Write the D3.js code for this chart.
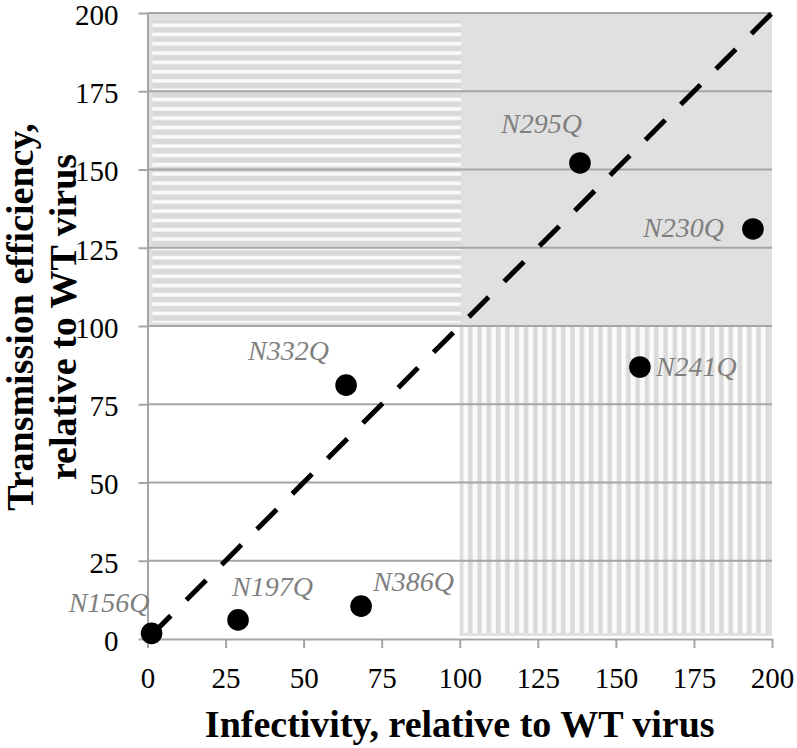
<!DOCTYPE html>
<html><head><meta charset="utf-8">
<script src="https://cdn.jsdelivr.net/npm/d3@7"></script>
<style>html,body{margin:0;padding:0;background:#fff;}svg{display:block;}</style>
</head><body>
<svg id="chart" width="797" height="748"></svg>
<script>
// ---- data ----
const mutants = ["N156Q","N197Q","N386Q","N332Q","N295Q","N230Q","N241Q"];
const infectivity = [1.3, 29.0, 68.4, 63.6, 138.5, 193.9, 157.7];
const transmission = [1.8, 6.1, 10.5, 81.1, 152.1, 131.0, 86.9];
const xTicks = [0,25,50,75,100,125,150,175,200];
const yTicks = [0,25,50,75,100,125,150,175,200];
const diagonal = [[0,0],[200,200]];

// ---- label layout (pixel offsets from point, not data) ----
const labelLayout = {
  N156Q:{dx:-2, dy:-21, anchor:"end"},
  N197Q:{dx:-6, dy:-24, anchor:"start"},
  N386Q:{dx:12, dy:-15, anchor:"start"},
  N332Q:{dx:-98, dy:-25, anchor:"start"},
  N295Q:{dx:-79, dy:-30, anchor:"start"},
  N230Q:{dx:-29, dy:8, anchor:"end"},
  N241Q:{dx:16, dy:9, anchor:"start"}
};

const svg = d3.select("#chart");
const x = d3.scaleLinear().domain([0,200]).range([147.5,772]);
const y = d3.scaleLinear().domain([0,200]).range([639,13]);
const serif = "'Liberation Serif','Times New Roman',serif";

const defs = svg.append("defs");
const ph = defs.append("pattern").attr("id","hstripe").attr("patternUnits","userSpaceOnUse")
  .attr("x",0).attr("y",20.7).attr("width",20).attr("height",9.3);
ph.append("rect").attr("width",20).attr("height",9.3).attr("fill","#d9d9d9");
ph.append("rect").attr("y",2.6).attr("width",20).attr("height",3.7).attr("fill","#fafafa");
const pv = defs.append("pattern").attr("id","vstripe").attr("patternUnits","userSpaceOnUse")
  .attr("x",x(100)).attr("y",0).attr("width",9.3).attr("height",20);
pv.append("rect").attr("width",9.3).attr("height",20).attr("fill","#dadada");
pv.append("rect").attr("x",3.5).attr("width",4.7).attr("height",20).attr("fill","#fafafa");

// upper grey band
svg.append("rect").attr("x",x(0)).attr("y",y(200)).attr("width",x(200)-x(0)).attr("height",y(100)-y(200)).attr("fill","#e0e0e0");
// top-left hatch
svg.append("rect").attr("x",x(0)+5).attr("y",y(200)+7.5).attr("width",x(100)-x(0)-4).attr("height",y(100)-y(200)-11).attr("fill","url(#hstripe)");
// bottom-right grey + hatch
svg.append("rect").attr("x",x(100)).attr("y",y(100)).attr("width",x(200)-x(100)).attr("height",y(0)-y(100)-3).attr("fill","#e0e0e0");
svg.append("rect").attr("x",x(100)+1).attr("y",y(100)+1).attr("width",x(200)-x(100)-4).attr("height",y(0)-y(100)-7).attr("fill","url(#vstripe)");

// gridlines
svg.append("g").selectAll("line").data(yTicks.filter(d=>d>0)).join("line")
  .attr("x1",x(0)).attr("x2",x(200)).attr("y1",d=>y(d)).attr("y2",d=>y(d))
  .attr("stroke","#a5a5a5").attr("stroke-width",2);

// axes
const gy = svg.append("g").attr("transform",`translate(${x(0)},0)`)
  .call(d3.axisLeft(y).tickValues(yTicks).tickSize(9).tickSizeOuter(0).tickPadding(20));
const gx = svg.append("g").attr("transform",`translate(0,${y(0)})`)
  .call(d3.axisBottom(x).tickValues(xTicks).tickSize(9).tickSizeOuter(0).tickPadding(20));
[gx,gy].forEach(g=>{
  g.attr("font-family",serif).attr("font-size",29);
  g.select(".domain").attr("stroke","#a5a5a5").attr("stroke-width",2);
  g.selectAll(".tick line").attr("stroke","#a5a5a5").attr("stroke-width",2);
  g.selectAll(".tick text").attr("font-family",serif).attr("font-size",29).attr("fill","#000");
});
gy.selectAll(".tick text").attr("dy","0.39em");
gx.selectAll(".tick text").attr("y",29).attr("dy","0.69em");

// diagonal dashed line
svg.append("path").datum(diagonal)
  .attr("d",d3.line().x(d=>x(d[0])).y(d=>y(d[1])))
  .attr("stroke","#000").attr("stroke-width",5).attr("fill","none")
  .attr("stroke-dasharray","28,22").attr("stroke-dashoffset",-5);

// points
const pts = mutants.map((m,i)=>({m, xv:infectivity[i], yv:transmission[i]}));
svg.append("g").selectAll("circle").data(pts).join("circle")
  .attr("cx",d=>x(d.xv)).attr("cy",d=>y(d.yv)).attr("r",10.8).attr("fill","#000");

// labels
svg.append("g").selectAll("text").data(pts).join("text")
  .attr("x",d=>x(d.xv)+labelLayout[d.m].dx).attr("y",d=>y(d.yv)+labelLayout[d.m].dy)
  .attr("text-anchor",d=>labelLayout[d.m].anchor)
  .attr("font-family",serif).attr("font-style","italic").attr("font-size",28).attr("fill","#7f7f7f")
  .text(d=>d.m);

// axis titles
svg.append("text").attr("x",(x(0)+x(200))/2).attr("y",737).attr("text-anchor","middle")
  .attr("font-family",serif).attr("font-weight","bold").attr("font-size",38)
  .text("Infectivity, relative to WT virus");
const yt = svg.append("text").attr("transform","translate(33,317) rotate(-90)")
  .attr("text-anchor","middle").attr("font-family",serif).attr("font-weight","bold").attr("font-size",38);
yt.append("tspan").attr("x",0).attr("y",0).text("Transmission efficiency,");
yt.append("tspan").attr("x",0).attr("y",43).text("relative to WT virus");
</script>
</body></html>
